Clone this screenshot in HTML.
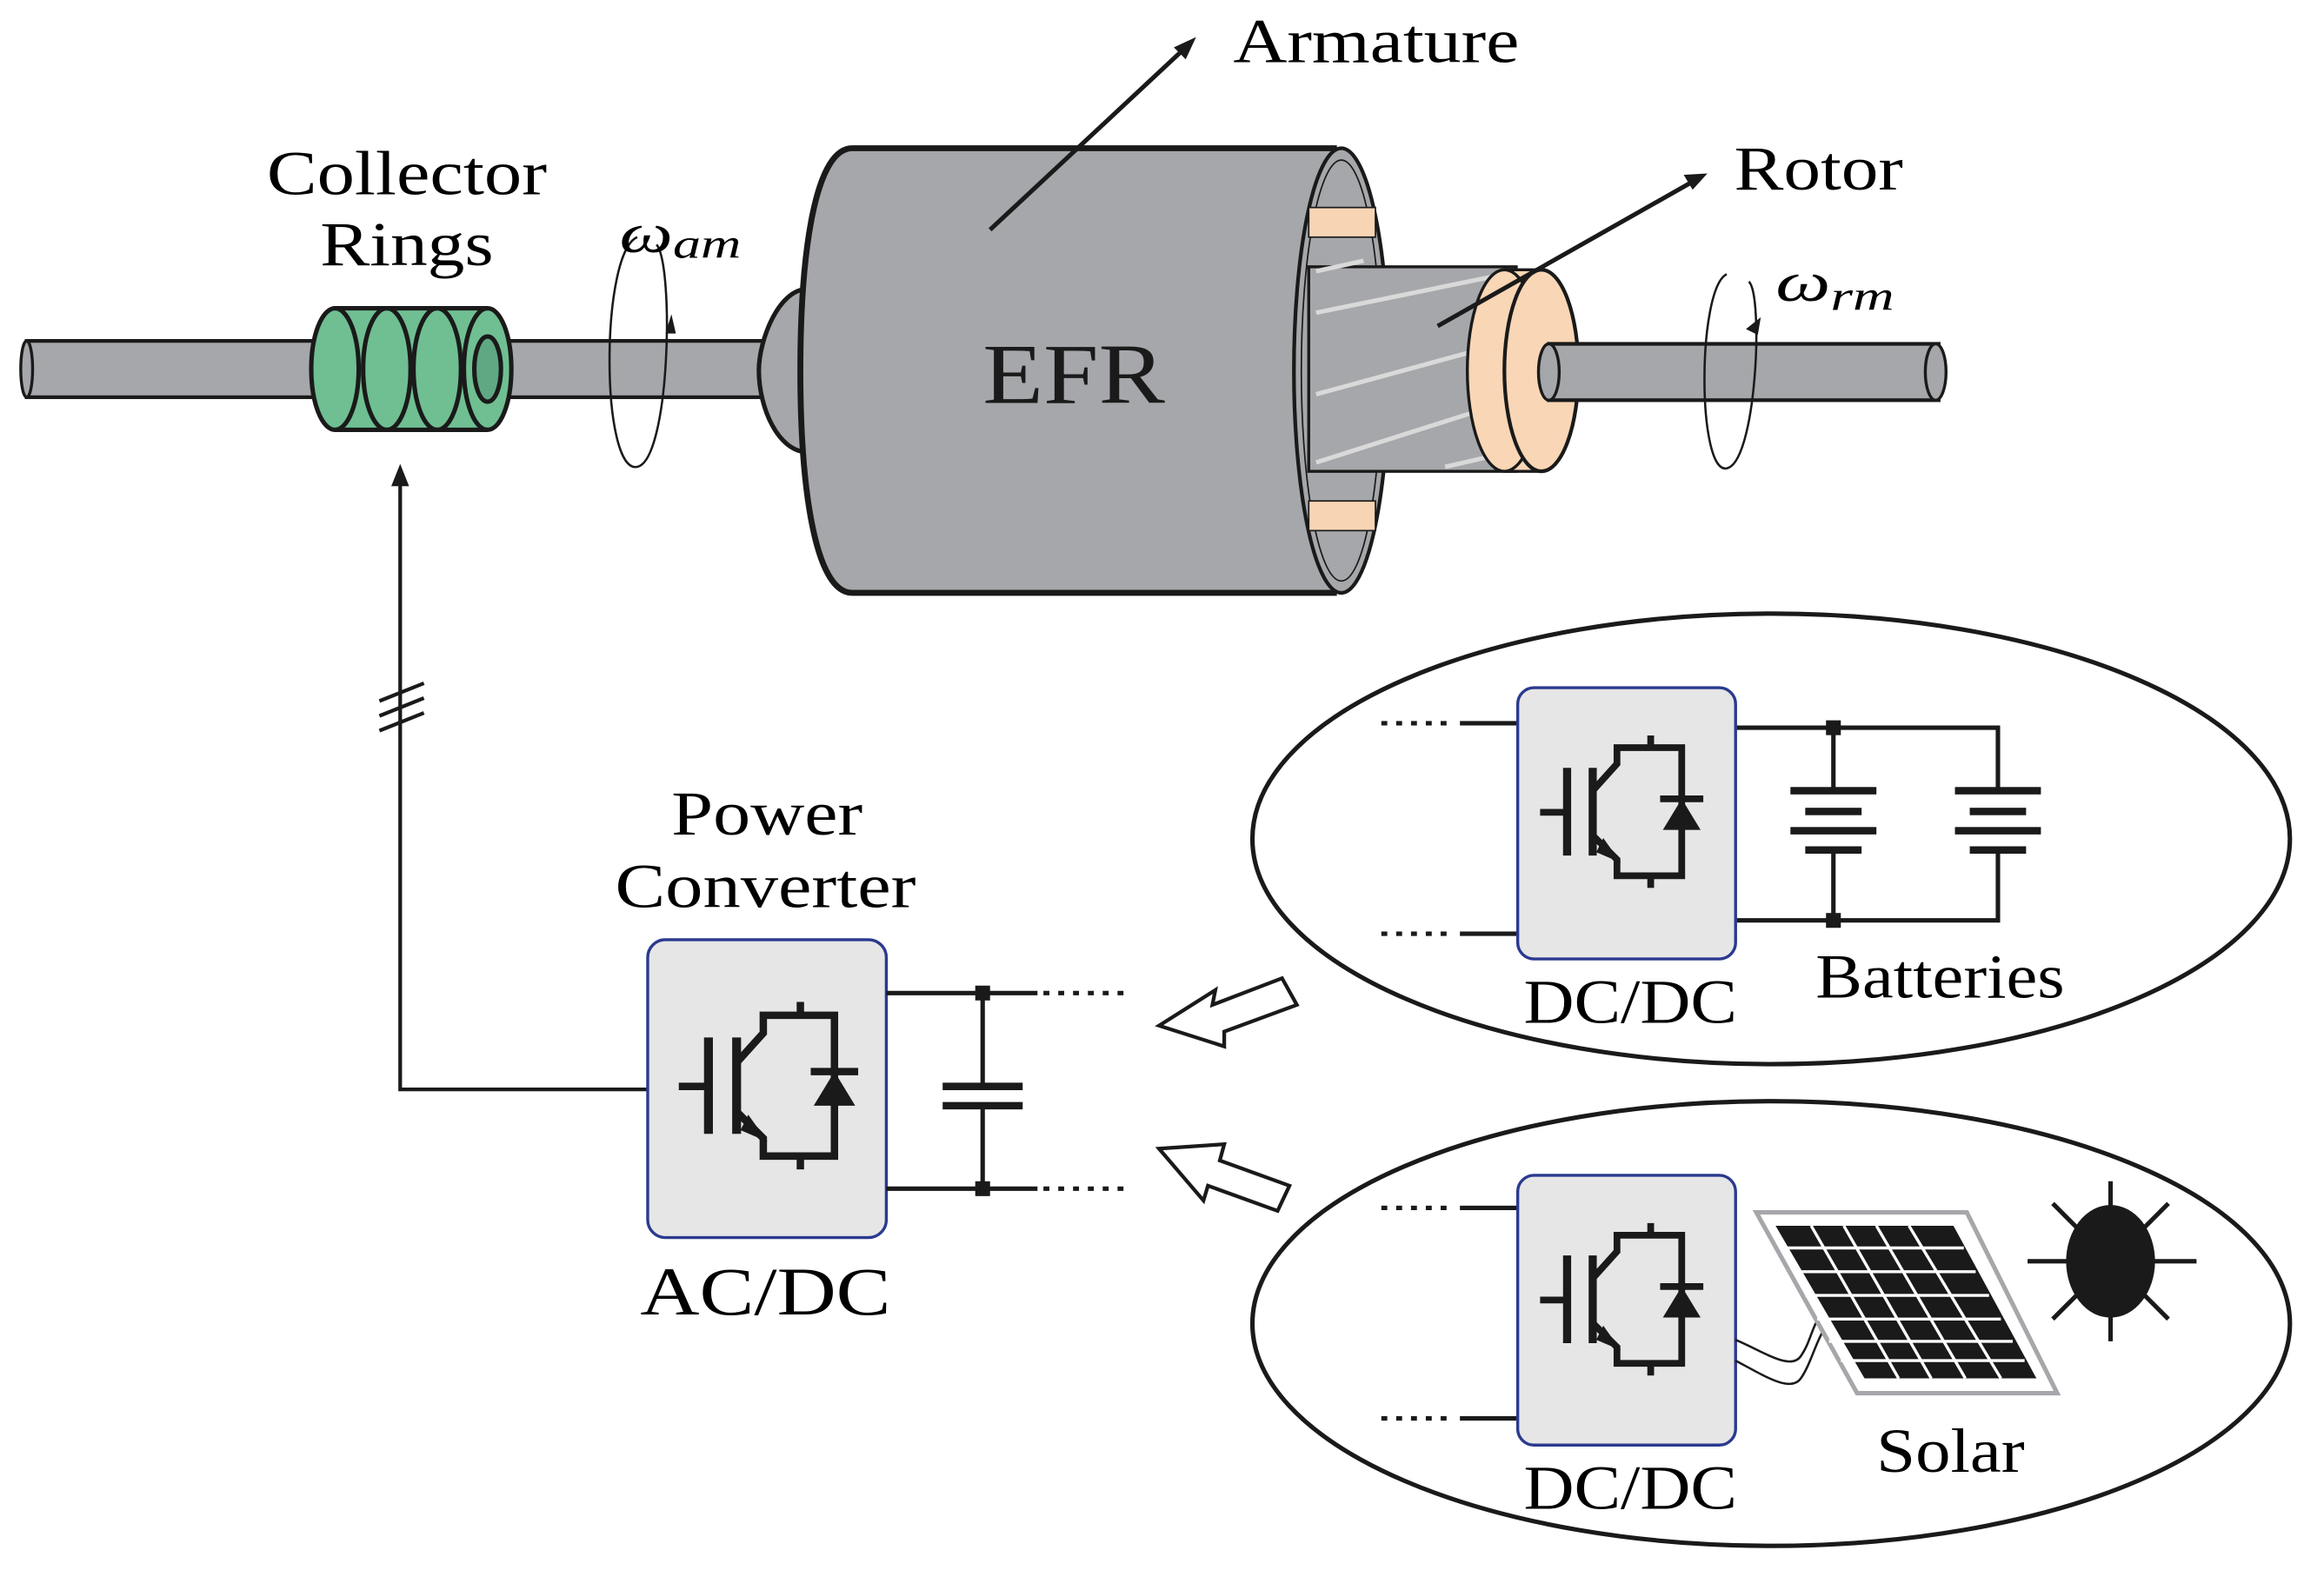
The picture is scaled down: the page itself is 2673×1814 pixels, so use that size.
<!DOCTYPE html>
<html><head><meta charset="utf-8"><style>html,body{margin:0;padding:0;background:#fff}svg{display:block}</style></head>
<body>
<svg width="2673" height="1814" viewBox="0 0 1568 1064" preserveAspectRatio="none" xmlns="http://www.w3.org/2000/svg" font-family="Liberation Serif, serif">
<defs>
<g id="ig" stroke="#1a1a1a" fill="none" stroke-width="5">
<line x1="21" y1="99" x2="41" y2="99"/>
<line x1="41" y1="66" x2="41" y2="131" stroke-width="6"/>
<line x1="60" y1="66" x2="60" y2="131" stroke-width="6"/>
<polyline points="60,83 78,63 78,51 126,51 126,146 78,146 78,134 60,116"/>
<polygon points="78,134 68,120 64,128" fill="#1a1a1a" stroke-width="2"/>
<line x1="110" y1="89" x2="142" y2="89"/>
<polygon points="112,112 140,112 126,89" fill="#1a1a1a" stroke="none"/>
<line x1="103" y1="42" x2="103" y2="51"/>
<line x1="103" y1="146" x2="103" y2="155"/>
</g>
</defs>
<rect width="1568" height="1064" fill="#fff"/>

<rect x="18" y="230" width="505" height="38" fill="#a6a7aa" stroke="#1a1a1a" stroke-width="2.5"/>
<ellipse cx="18" cy="249" rx="4" ry="19" fill="#a6a7aa" stroke="#1a1a1a" stroke-width="2"/>
<g stroke="#1a1a1a" stroke-width="3" fill="#6fbf92">
<rect x="225" y="208" width="105" height="82" fill="#6fbf92" stroke="none"/>
<ellipse cx="226" cy="249" rx="16" ry="41"/>
<ellipse cx="261" cy="249" rx="16" ry="41"/>
<ellipse cx="295" cy="249" rx="16" ry="41"/>
<ellipse cx="329" cy="249" rx="16" ry="41"/>
<line x1="226" y1="208" x2="329" y2="208"/>
<line x1="226" y1="290" x2="329" y2="290"/>
<ellipse cx="329" cy="249" rx="9" ry="22" fill="#5fa883"/>
</g>
<path d="M430,160 C405,170 405,320 430,315 C452,310 455,180 443,165" fill="none" stroke="#1a1a1a" stroke-width="1.5"/>
<polygon points="449,225 453,212 456,225" fill="#1a1a1a"/>
<text x="418" y="170" font-size="38" font-style="italic" textLength="82" lengthAdjust="spacingAndGlyphs">ω<tspan font-size="28" dy="4">am</tspan></text>

<path d="M545,195 C525,195 512,230 512,250 C512,275 525,305 545,305 Z" fill="#a6a7aa" stroke="#1a1a1a" stroke-width="3"/>
<path d="M575,100 L900,100 L900,400 L575,400 C550,400 540,330 540,250 C540,170 550,100 575,100 Z" fill="#a6a7aa" stroke="#1a1a1a" stroke-width="4"/>
<ellipse cx="905" cy="250" rx="32" ry="150" fill="#a6a7aa" stroke="#1a1a1a" stroke-width="2.5"/>
<ellipse cx="905" cy="250" rx="27" ry="142" fill="#a6a7aa" stroke="#1a1a1a" stroke-width="1"/>
<rect x="883" y="140" width="45" height="20" fill="#f7d5b4" stroke="#1a1a1a" stroke-width="1"/>
<rect x="883" y="338" width="45" height="20" fill="#f7d5b4" stroke="#1a1a1a" stroke-width="1"/>
<rect x="883" y="180" width="140" height="138" fill="#a6a7aa" stroke="#1a1a1a" stroke-width="2"/>
<g stroke="#d9d9d9" stroke-width="3">
<line x1="888" y1="312" x2="1020" y2="270"/>
<line x1="888" y1="266" x2="1020" y2="230"/>
<line x1="888" y1="211" x2="1020" y2="184"/>
<line x1="888" y1="183" x2="920" y2="176"/>
<line x1="975" y1="315" x2="1010" y2="307"/>
</g>
<rect x="1015" y="182" width="25" height="136" fill="#f9d6b5" stroke="none"/>
<ellipse cx="1015" cy="250" rx="25" ry="68" fill="#f9d6b5" stroke="#1a1a1a" stroke-width="2"/>
<ellipse cx="1040" cy="250" rx="25" ry="68" fill="#f9d6b5" stroke="#1a1a1a" stroke-width="2.5"/>
<line x1="1015" y1="182" x2="1040" y2="182" stroke="#1a1a1a" stroke-width="2"/>
<line x1="1015" y1="318" x2="1040" y2="318" stroke="#1a1a1a" stroke-width="2"/>
<text x="663" y="272" font-size="58" fill="#1a1a1a" textLength="123" lengthAdjust="spacingAndGlyphs">EFR</text>
<rect x="1045" y="232" width="263" height="38" fill="#a6a7aa" stroke="#1a1a1a" stroke-width="2.5"/>
<ellipse cx="1045" cy="251" rx="7" ry="19" fill="#a6a7aa" stroke="#1a1a1a" stroke-width="2"/>
<ellipse cx="1306" cy="251" rx="7" ry="19" fill="#a6a7aa" stroke="#1a1a1a" stroke-width="2"/>
<path d="M1165,185 C1145,195 1145,320 1165,316 C1185,312 1190,200 1180,190" fill="none" stroke="#1a1a1a" stroke-width="1.5"/>
<polygon points="1178,222 1188,214 1186,226" fill="#1a1a1a"/>
<text x="1198" y="203" font-size="38" font-style="italic" textLength="80" lengthAdjust="spacingAndGlyphs">ω<tspan font-size="28" dy="6">rm</tspan></text>

<text x="180" y="131" font-size="42" textLength="189" lengthAdjust="spacingAndGlyphs">Collector</text>
<text x="216" y="179" font-size="42" textLength="117" lengthAdjust="spacingAndGlyphs">Rings</text>
<text x="832" y="42" font-size="42" textLength="193" lengthAdjust="spacingAndGlyphs">Armature</text>
<text x="1170" y="128" font-size="42" textLength="114" lengthAdjust="spacingAndGlyphs">Rotor</text>
<line x1="668" y1="155" x2="800" y2="32" stroke="#1a1a1a" stroke-width="3"/>
<polygon points="807,25 792,32 800,40" fill="#1a1a1a"/>
<line x1="970" y1="220" x2="1143" y2="122" stroke="#1a1a1a" stroke-width="3"/>
<polygon points="1152,117 1136,118 1142,128" fill="#1a1a1a"/>

<polyline points="270,325 270,735 437,735" fill="none" stroke="#1a1a1a" stroke-width="2.5"/>
<polygon points="270,313 264,328 276,328" fill="#1a1a1a"/>
<g stroke="#1a1a1a" stroke-width="2.5"><line x1="256" y1="473" x2="286" y2="461"/><line x1="256" y1="483" x2="286" y2="471"/><line x1="256" y1="493" x2="286" y2="481"/></g>

<text x="453" y="563" font-size="42" textLength="129" lengthAdjust="spacingAndGlyphs">Power</text>
<text x="415" y="612" font-size="42" textLength="203" lengthAdjust="spacingAndGlyphs">Converter</text>
<rect x="437" y="634" width="161" height="201" rx="12" fill="#e6e6e6" stroke="#2b3a8f" stroke-width="2"/>
<use href="#ig" x="437" y="634"/>
<text x="432" y="887" font-size="46" textLength="169" lengthAdjust="spacingAndGlyphs">AC/DC</text>
<g stroke="#1a1a1a" stroke-width="3" fill="none">
<polyline points="598,670 700,670"/><polyline points="598,802 700,802"/>
<line x1="663" y1="670" x2="663" y2="733"/><line x1="663" y1="745" x2="663" y2="802"/>
<line x1="636" y1="733" x2="690" y2="733" stroke-width="5"/><line x1="636" y1="746" x2="690" y2="746" stroke-width="5"/>
<line x1="704" y1="670" x2="760" y2="670" stroke-dasharray="4,6"/>
<line x1="704" y1="802" x2="760" y2="802" stroke-dasharray="4,6"/>
</g>
<rect x="658" y="665" width="10" height="10" fill="#1a1a1a"/><rect x="658" y="797" width="10" height="10" fill="#1a1a1a"/>

<polygon points="782,692 820,668 818,678 865,660 875,678 826,696 826,706" fill="#fff" stroke="#1a1a1a" stroke-width="2.5"/>
<polygon points="782,775 826,772 823,783 870,800 862,817 815,800 812,810" fill="#fff" stroke="#1a1a1a" stroke-width="2.5"/>

<ellipse cx="1195" cy="566" rx="350" ry="152" fill="none" stroke="#1a1a1a" stroke-width="3"/>
<ellipse cx="1195" cy="893" rx="350" ry="150" fill="none" stroke="#1a1a1a" stroke-width="3"/>

<g stroke="#1a1a1a" stroke-width="3" fill="none">
<line x1="932" y1="488" x2="980" y2="488" stroke-dasharray="4,6"/><line x1="985" y1="488" x2="1024" y2="488"/>
<line x1="932" y1="630" x2="980" y2="630" stroke-dasharray="4,6"/><line x1="985" y1="630" x2="1024" y2="630"/>
<polyline points="1171,491 1348,491 1348,533"/>
<polyline points="1171,621 1348,621 1348,573"/>
<line x1="1237" y1="491" x2="1237" y2="533"/><line x1="1237" y1="573" x2="1237" y2="621"/>
</g>
<rect x="1024" y="464" width="147" height="183" rx="11" fill="#e6e6e6" stroke="#2b3a8f" stroke-width="2"/>
<g transform="translate(1020,458) scale(0.91)"><use href="#ig"/></g>
<g fill="#1a1a1a">
<rect x="1232" y="486" width="10" height="10"/><rect x="1232" y="616" width="10" height="10"/>
<rect x="1208" y="531" width="58" height="5"/><rect x="1218" y="545" width="38" height="5"/><rect x="1208" y="558" width="58" height="5"/><rect x="1218" y="571" width="38" height="5"/>
<rect x="1319" y="531" width="58" height="5"/><rect x="1329" y="545" width="38" height="5"/><rect x="1319" y="558" width="58" height="5"/><rect x="1329" y="571" width="38" height="5"/>
</g>
<text x="1028" y="690" font-size="42" textLength="144" lengthAdjust="spacingAndGlyphs">DC/DC</text>
<text x="1225" y="673" font-size="42" textLength="168" lengthAdjust="spacingAndGlyphs">Batteries</text>

<g stroke="#1a1a1a" stroke-width="3" fill="none">
<line x1="932" y1="815" x2="980" y2="815" stroke-dasharray="4,6"/><line x1="985" y1="815" x2="1024" y2="815"/>
<line x1="932" y1="957" x2="980" y2="957" stroke-dasharray="4,6"/><line x1="985" y1="957" x2="1024" y2="957"/>
</g>
<rect x="1024" y="793" width="147" height="182" rx="11" fill="#e6e6e6" stroke="#2b3a8f" stroke-width="2"/>
<g transform="translate(1020,787) scale(0.91)"><use href="#ig"/></g>
<path d="M1171,904 C1190,912 1208,925 1215,915 C1222,905 1222,895 1230,885" fill="none" stroke="#1a1a1a" stroke-width="1.5"/>
<path d="M1171,918 C1190,928 1208,940 1215,930 C1222,920 1225,905 1232,895" fill="none" stroke="#1a1a1a" stroke-width="1.5"/>
<polygon points="1185,818 1327,818 1388,940 1253,940" fill="#fff" stroke="#a6a7aa" stroke-width="3"/>
<polygon points="1198,827 1318,827 1374,930 1258,930" fill="#1a1a1a"/>
<g stroke="#fff" stroke-width="2">
<line x1="1204" y1="842" x2="1325" y2="842"/><line x1="1211" y1="858" x2="1333" y2="858"/><line x1="1218" y1="874" x2="1342" y2="874"/>
<line x1="1226" y1="890" x2="1350" y2="890"/><line x1="1234" y1="905" x2="1358" y2="905"/><line x1="1242" y1="918" x2="1366" y2="918"/>
<line x1="1222" y1="827" x2="1281" y2="930"/><line x1="1244" y1="827" x2="1303" y2="930"/><line x1="1266" y1="827" x2="1326" y2="930"/><line x1="1288" y1="827" x2="1350" y2="930"/>
</g>
<g stroke="#1a1a1a" stroke-width="3">
<line x1="1424" y1="797" x2="1424" y2="905"/><line x1="1368" y1="851" x2="1482" y2="851"/>
<line x1="1385" y1="812" x2="1463" y2="890"/><line x1="1463" y1="812" x2="1385" y2="890"/>
</g>
<ellipse cx="1424" cy="851" rx="30" ry="38" fill="#1a1a1a"/>
<text x="1028" y="1018" font-size="42" textLength="144" lengthAdjust="spacingAndGlyphs">DC/DC</text>
<text x="1266" y="993" font-size="42" textLength="100" lengthAdjust="spacingAndGlyphs">Solar</text>
</svg>
</body></html>
